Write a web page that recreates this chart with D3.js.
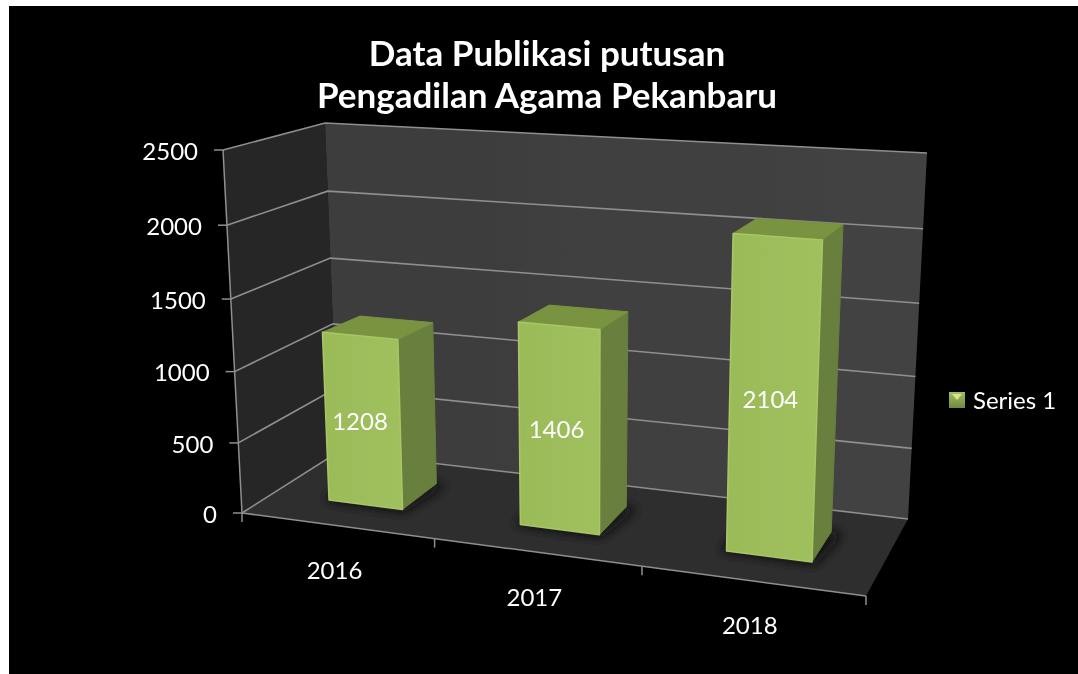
<!DOCTYPE html>
<html>
<head>
<meta charset="utf-8">
<script src="https://cdn.jsdelivr.net/npm/d3@7"></script>
<style>
  html, body { margin: 0; padding: 0; background: #fff; }
  svg { display: block; }
  text { font-family: Lato, "Open Sans", sans-serif; fill: #fff; }
</style>
</head>
<body>
<svg id="chart" width="1078" height="674"></svg>
<script>
const categories = ["2016", "2017", "2018"];
const values = [1208, 1406, 2104];
const yTicks = [0, 500, 1000, 1500, 2000, 2500];
const seriesName = "Series 1";
const titleLines = ["Data Publikasi putusan", "Pengadilan Agama Pekanbaru"];

const svg = d3.select("#chart");

// the eight corners of the chart box as seen on screen
const box = {
  frontLeftBottom: [242, 513],
  frontRightBottom: [866, 596],
  backLeftBottom: [338, 452],
  backRightBottom: [908, 519],
  frontLeftTop: [223, 150],
  frontRightTop: [881, 195],
  backLeftTop: [325, 123],
  backRightTop: [927, 153],
};

const x = d3.scaleBand().domain(categories).range([0, 1]).paddingInner(0.607).paddingOuter(0.3035);
const y = d3.scaleLinear().domain([0, 2500]).range([0, 1]);
const depth = d3.scaleLinear().domain([0, 1]).range([0.33, 0.73]);

// foreshortening, the right and the bottom of the box are nearer
const warp = (t, r) => t / (t + r * (1 - t));
const mix = (a, b, t) => [a[0] + (b[0] - a[0]) * t, a[1] + (b[1] - a[1]) * t];

function project(u, v, w) {
  const s = warp(u, 1.12);
  const h = warp(v, 1.045);
  const bottom = mix(mix(box.frontLeftBottom, box.frontRightBottom, s), mix(box.backLeftBottom, box.backRightBottom, s), w);
  const top = mix(mix(box.frontLeftTop, box.frontRightTop, s), mix(box.backLeftTop, box.backRightTop, s), w);
  return mix(bottom, top, h);
}

const line = d3.line();
const poly = (pts) => line(pts) + "Z";

const defs = svg.append("defs");
defs.append("filter").attr("id", "soft").attr("x", "-5%").attr("y", "-5%").attr("width", "110%").attr("height", "110%")
  .append("feGaussianBlur").attr("stdDeviation", 0.55);
defs.append("filter").attr("id", "softText").attr("x", "-5%").attr("y", "-5%").attr("width", "110%").attr("height", "110%")
  .append("feGaussianBlur").attr("stdDeviation", 0.35);
defs.append("filter").attr("id", "shadow").attr("x", "-40%").attr("y", "-40%").attr("width", "180%").attr("height", "180%")
  .append("feGaussianBlur").attr("stdDeviation", 6);

const backGrad = defs.append("linearGradient").attr("id", "backWall").attr("x1", 0).attr("x2", 1).attr("y1", 0).attr("y2", 0);
backGrad.append("stop").attr("offset", 0).attr("stop-color", "#3c3c3c");
backGrad.append("stop").attr("offset", 1).attr("stop-color", "#434343");

const frontGrad = defs.append("linearGradient").attr("id", "barFront").attr("x1", 0).attr("x2", 1).attr("y1", 0).attr("y2", 0);
frontGrad.append("stop").attr("offset", 0).attr("stop-color", "#9bbb59");
frontGrad.append("stop").attr("offset", 1).attr("stop-color", "#a0bf5d");

const legendGrad = defs.append("linearGradient").attr("id", "legendFill").attr("x1", 0).attr("x2", 0).attr("y1", 0).attr("y2", 1);
legendGrad.append("stop").attr("offset", 0).attr("stop-color", "#a3bf62");
legendGrad.append("stop").attr("offset", 1).attr("stop-color", "#6f8a3c");

svg.append("rect").attr("x", 9).attr("y", 6).attr("width", 1069).attr("height", 668).attr("fill", "#000");

const chart = svg.append("g").attr("filter", "url(#soft)");
const labels = svg.append("g").attr("filter", "url(#softText)");

// walls and floor
chart.append("path").attr("d", poly([project(0, 0, 0), project(1, 0, 0), project(1, 0, 1), project(0, 0, 1)])).attr("fill", "#2f2f2f");
chart.append("path").attr("d", poly([project(0, 0, 0), project(0, 1, 0), project(0, 1, 1), project(0, 0, 1)])).attr("fill", "#272727");
chart.append("path").attr("d", poly([project(0, 0, 1), project(0, 1, 1), project(1, 1, 1), project(1, 0, 1)])).attr("fill", "url(#backWall)");

// gridlines
const gridColor = "#8f8f8f";
yTicks.forEach((t) => {
  const v = y(t);
  chart.append("path")
    .attr("d", line([project(0, v, 0), project(0, v, 1), project(1, v, 1)]))
    .attr("fill", "none").attr("stroke", gridColor).attr("stroke-width", 1.6);
});

// axes
chart.append("path").attr("d", line([project(0, 0, 0), project(0, 1, 0)])).attr("stroke", gridColor).attr("stroke-width", 1.5).attr("fill", "none");
chart.append("path").attr("d", line([project(0, 0, 0), project(1, 0, 0)])).attr("stroke", gridColor).attr("stroke-width", 1.5).attr("fill", "none");

yTicks.forEach((t) => {
  const p = project(0, y(t), 0);
  chart.append("path").attr("d", line([[p[0] - 9, p[1]], p])).attr("stroke", gridColor).attr("stroke-width", 1.5);
  labels.append("text")
    .attr("x", p[0] - 25)
    .attr("y", p[1] + 1)
    .attr("dy", "0.36em")
    .attr("text-anchor", "end")
    .style("font-size", "24px")
    .text(t);
});

d3.range(categories.length + 1).forEach((i) => {
  const p = project(i / categories.length, 0, 0);
  chart.append("path").attr("d", line([p, [p[0], p[1] + 9]])).attr("stroke", gridColor).attr("stroke-width", 1.5);
});

// floor shadows
categories.forEach((c) => {
  const u0 = x(c);
  const u1 = u0 + x.bandwidth();
  chart.append("path")
    .attr("d", poly([project(u0 - 0.01, 0, depth(0) - 0.01), project(u1 + 0.008, 0, depth(0) - 0.03), project(u1 + 0.02, 0, depth(1)), project(u0, 0, depth(1))]))
    .attr("fill", "#0a0a0a")
    .attr("opacity", 0.85)
    .attr("filter", "url(#shadow)");
});

// bars, the back of the top face sits a little low because of the bevel
const bevel = 0.007;
categories.forEach((c, i) => {
  const u0 = x(c);
  const u1 = u0 + x.bandwidth();
  const v = y(values[i]);
  const zf = depth(0);
  const zb = depth(1);

  const g = chart.append("g").attr("stroke-linejoin", "round");
  g.append("path")
    .attr("d", poly([project(u1, 0, zf), project(u1, v, zf), project(u1, v - bevel, zb), project(u1, 0, zb)]))
    .attr("fill", "#677f3d")
    .attr("stroke", "#677f3d")
    .attr("stroke-width", 1);
  g.append("path")
    .attr("d", poly([project(u0, v, zf), project(u1, v, zf), project(u1, v - bevel, zb), project(u0, v - bevel, zb)]))
    .attr("fill", "#79933f")
    .attr("stroke", "#79933f")
    .attr("stroke-width", 1);
  g.append("path")
    .attr("d", poly([project(u0, 0, zf), project(u1, 0, zf), project(u1, v, zf), project(u0, v, zf)]))
    .attr("fill", "url(#barFront)")
    .attr("stroke", "#a9c766")
    .attr("stroke-width", 1.5);

  const a = project(u0, v / 2, zf);
  const b = project(u1, v / 2, zf);
  labels.append("text")
    .attr("x", (a[0] + b[0]) / 2 - 3)
    .attr("y", (a[1] + b[1]) / 2)
    .attr("dy", "0.36em")
    .attr("text-anchor", "middle")
    .style("font-size", "24px")
    .text(values[i]);

  const base = project(u0 + x.bandwidth() / 2, 0, 0);
  labels.append("text")
    .attr("x", base[0] - 2)
    .attr("y", base[1] + 45)
    .attr("dy", "0.36em")
    .attr("text-anchor", "middle")
    .style("font-size", "24px")
    .text(c);
});

// title
titleLines.forEach((t, i) => {
  labels.append("text")
    .attr("x", 547)
    .attr("y", 53 + i * 42)
    .attr("dy", "0.36em")
    .attr("text-anchor", "middle")
    .style("font-size", "35px")
    .style("font-weight", 700)
    .text(t);
});

// legend
const legend = labels.append("g").attr("transform", "translate(949,392)");
legend.append("rect").attr("width", 16).attr("height", 16).attr("fill", "url(#legendFill)");
legend.append("path").attr("d", "M3,2L13,2L8,8Z").attr("fill", "#d6e68f");
legend.append("text").attr("x", 24).attr("y", 8).attr("dy", "0.36em").style("font-size", "24px").text(seriesName);
</script>
</body>
</html>
